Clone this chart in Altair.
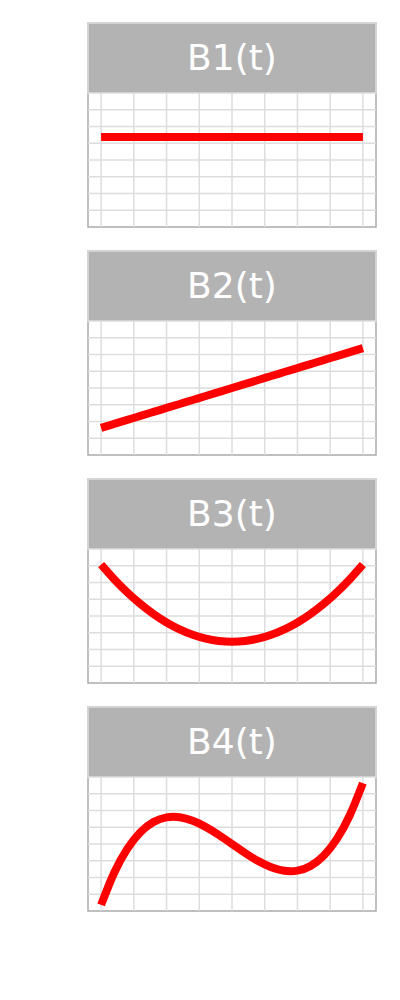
import altair as alt
import pandas as pd

# sample positions (t) and values
t = [0.0, 0.05, 0.1, 0.15, 0.2, 0.25, 0.3, 0.35, 0.4, 0.45, 0.5,
     0.55, 0.6, 0.65, 0.7, 0.75, 0.8, 0.85, 0.9, 0.95, 1.0]
b1 = [1.0, 1.0, 1.0, 1.0, 1.0, 1.0, 1.0, 1.0, 1.0, 1.0, 1.0,
      1.0, 1.0, 1.0, 1.0, 1.0, 1.0, 1.0, 1.0, 1.0, 1.0]
b2 = [-1.732, -1.559, -1.386, -1.212, -1.039, -0.866, -0.693, -0.520, -0.346, -0.173, 0.0,
      0.173, 0.346, 0.520, 0.693, 0.866, 1.039, 1.212, 1.386, 1.559, 1.732]
b3 = [2.236, 1.599, 1.029, 0.525, 0.089, -0.280, -0.581, -0.816, -0.984, -1.084, -1.118,
      -1.084, -0.984, -0.816, -0.581, -0.280, 0.089, 0.525, 1.029, 1.599, 2.236]
b4 = [-2.646, -1.250, -0.212, 0.509, 0.952, 1.158, 1.164, 1.012, 0.741, 0.390, 0.0,
      -0.390, -0.741, -1.012, -1.164, -1.158, -0.952, -0.509, 0.212, 1.250, 2.646]
labels = ["B1(t)", "B2(t)", "B3(t)", "B4(t)"]
series = [b1, b2, b3, b4]

x_domain = [-0.05, 1.05]
y_domain = [-2.91, 2.91]
x_grid = [0.0, 0.125, 0.25, 0.375, 0.5, 0.625, 0.75, 0.875, 1.0]
y_grid = [-2.1825, -1.455, -0.7275, 0.0, 0.7275, 1.455, 2.1825]

W = 288
HH = 70
PH = 134
GRID = "#dddddd"

xs = alt.Scale(domain=x_domain, nice=False, zero=False)
ys_scale = alt.Scale(domain=y_domain, range=[HH + PH, HH], nice=False, zero=False)


def panel(label, ys):
    gx = alt.Chart(pd.DataFrame({"g": x_grid})).mark_rule(color=GRID, strokeWidth=1.5).encode(
        x=alt.X("g:Q", scale=xs, axis=None),
        y=alt.value(HH), y2=alt.value(HH + PH),
    )
    gy = alt.Chart(pd.DataFrame({"g": y_grid})).mark_rule(color=GRID, strokeWidth=1.5).encode(
        y=alt.Y("g:Q", scale=ys_scale, axis=None),
        x=alt.value(0), x2=alt.value(W),
    )
    df = pd.DataFrame({"t": t, "v": ys})
    line = alt.Chart(df).mark_line(color="#ff0000", strokeWidth=8, interpolate="natural").encode(
        x=alt.X("t:Q", scale=xs, axis=None),
        y=alt.Y("v:Q", scale=ys_scale, axis=None),
    )
    hdr = alt.Chart(pd.DataFrame({"label": [label]}))
    rect = hdr.mark_rect(fill="#b3b3b3", stroke="#dddddd", strokeWidth=1.5).encode(
        x=alt.value(0), x2=alt.value(W), y=alt.value(0), y2=alt.value(HH)
    )
    txt = hdr.mark_text(
        color="white", fontSize=36, font="DejaVu Sans", align="center", baseline="middle"
    ).encode(x=alt.value(W / 2), y=alt.value(HH / 2 + 1), text="label:N")
    return alt.layer(gx, gy, line, rect, txt).properties(width=W, height=HH + PH)


chart = alt.vconcat(*[panel(l, s) for l, s in zip(labels, series)], spacing=20).properties(
    padding={"left": 76, "top": 13, "right": 5, "bottom": 5}
).configure_view(stroke="#aaaaaa", strokeWidth=1.5)

chart.save("out.html", embed_options={"renderer": "svg", "actions": False})
